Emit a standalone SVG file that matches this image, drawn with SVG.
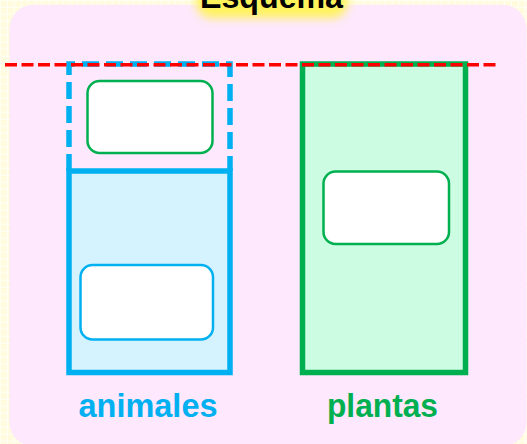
<svg xmlns="http://www.w3.org/2000/svg" width="527" height="444" viewBox="0 0 527 444">
  <style>
    .lbl { font-family: "Liberation Sans", Arial, sans-serif; font-weight: bold; }
    .outer { stroke-width: 5.5; }
    .inner { fill: #ffffff; stroke-width: 2.5; }
  </style>
  <defs>
    <pattern id="grid" width="7" height="7" patternUnits="userSpaceOnUse">
      <rect width="7" height="7" fill="#fffef0"/>
      <rect x="1" y="1" width="5.5" height="5.5" fill="#fffbdc"/>
    </pattern>
    <filter id="glow" x="-30%" y="-80%" width="160%" height="260%">
      <feGaussianBlur stdDeviation="5"/>
    </filter>
  </defs>

  <rect width="527" height="444" fill="url(#grid)"/>
  <rect x="9.5" y="4.7" width="517" height="441.5" rx="24" fill="#fde8fd"/>

  <g id="title">
    <rect x="196" y="-20" width="152" height="38" rx="16" fill="#fff35c" filter="url(#glow)"/>
    <text class="lbl" x="271.5" y="8" font-size="33" text-anchor="middle" fill="#000000" textLength="143" lengthAdjust="spacingAndGlyphs">Esquema</text>
  </g>

  <g id="animales">
    <path d="M69,171 V64 H230 V171" fill="none" stroke="#00b0f0" stroke-width="5.5" stroke-dasharray="17 7"/>
    <rect class="outer" x="69" y="171" width="161" height="201.5" fill="#d5f3fe" stroke="#00b0f0"/>
    <rect id="animales-top-box" class="inner" x="87.5" y="81" width="125" height="72" rx="12" stroke="#00b050"/>
    <rect id="animales-bottom-box" class="inner" x="80.5" y="265" width="132.5" height="74.5" rx="12" stroke="#00b0f0"/>
    <text class="lbl" x="148" y="417" font-size="33" text-anchor="middle" fill="#00b0f0" textLength="139" lengthAdjust="spacingAndGlyphs">animales</text>
  </g>

  <g id="plantas">
    <rect class="outer" x="302.5" y="64" width="163" height="308.5" fill="#ccfde3" stroke="#00b050"/>
    <rect id="plantas-box" class="inner" x="323.5" y="171.5" width="125.5" height="72.5" rx="12" stroke="#00b050"/>
    <text class="lbl" x="382.5" y="417" font-size="33" text-anchor="middle" fill="#00b050" textLength="111" lengthAdjust="spacingAndGlyphs">plantas</text>
  </g>

  <g id="connectors">
    <line x1="5" y1="64.7" x2="498" y2="64.7" stroke="#ff0000" stroke-width="3.5" stroke-dasharray="12 4.5"/>
  </g>
</svg>
